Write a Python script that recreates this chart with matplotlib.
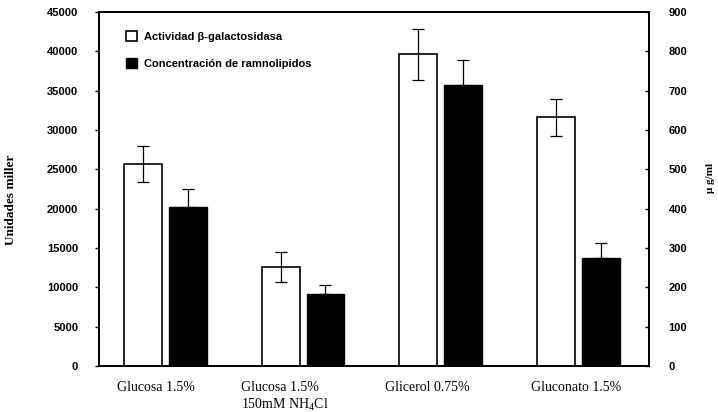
import numpy as np
import matplotlib
matplotlib.use("Agg")
import matplotlib.pyplot as plt
from matplotlib.patches import Patch

plt.rcParams['mathtext.fontset'] = 'custom'
plt.rcParams['mathtext.rm'] = 'Liberation Serif'

medios = ["Glucosa 1.5%", "Glucosa 1.5%\n150mM NH$_4$Cl", "Glicerol 0.75%", "Gluconato 1.5%"]
actividad = [25700, 12600, 39600, 31600]          # unidades miller
actividad_err = [2300, 1950, 3200, 2400]
ramnolipidos = [405, 183, 715, 274]               # ug/ml
ramnolipidos_err = [45, 22, 62, 38]

label_shift = [-0.07, -0.13, -0.10, -0.02]

x = np.arange(len(medios))
w = 0.275
off = 0.163

fig = plt.figure(figsize=(7.18, 4.12), dpi=100)
ax = fig.add_axes([0.1379, 0.1117, 0.7660, 0.8592])
ax2 = ax.twinx()

ax.bar(x - off, actividad, w, color='white', edgecolor='black', linewidth=1.2, zorder=2)
ax.errorbar(x - off, actividad, yerr=actividad_err, fmt='none', ecolor='black',
            elinewidth=0.9, capsize=4, capthick=0.9, zorder=3)

ax2.bar(x + off, ramnolipidos, w, color='black', edgecolor='black', linewidth=1.0, zorder=2)
ax2.errorbar(x + off, ramnolipidos, yerr=[[0] * 4, ramnolipidos_err], fmt='none', ecolor='black',
             elinewidth=0.9, capsize=4, capthick=0.9, zorder=3)

ax.set_xlim(-0.48, 3.51)
ax.set_ylim(0, 45000)
ax.set_yticks(np.arange(0, 45001, 5000))
ax2.set_ylim(0, 900)
ax2.set_yticks(np.arange(0, 901, 100))

tick_font = dict(family='Liberation Sans', weight='bold', size=8)
ax.set_yticklabels([str(v) for v in range(0, 45001, 5000)], fontdict=tick_font)
ax2.set_yticklabels([str(v) for v in range(0, 901, 100)], fontdict=tick_font)
ax.tick_params(axis='y', direction='out', length=3, width=1, pad=12)
ax2.tick_params(axis='y', direction='in', length=3, width=1, pad=14)

ax.set_xticks(x + np.array(label_shift))
ax.set_xticklabels(medios, family='Liberation Serif', size=10, multialignment='left')
ax.tick_params(axis='x', length=0, pad=11)

for a in (ax, ax2):
    for s in a.spines.values():
        s.set_linewidth(1.4)

ax.set_ylabel("Unidades miller", family='Liberation Serif', weight='bold', size=9.5)
ax.yaxis.set_label_coords(-0.15, 0.47)
ax2.set_ylabel("\u03bc g/ml", family='Liberation Serif', weight='bold', size=8, rotation=90)
ax2.yaxis.set_label_coords(1.103, 0.53)

handles = [Patch(facecolor='white', edgecolor='black', linewidth=1.2),
           Patch(facecolor='black', edgecolor='black')]
ax.legend(handles, ["Actividad \u03b2-galactosidasa", "Concentración de ramnolipidos"],
          loc='upper left', bbox_to_anchor=(0.03, 0.975), frameon=False,
          prop=dict(family='Liberation Sans', weight='bold', size=8),
          handlelength=1.0, handleheight=1.0, handletextpad=0.7, labelspacing=1.45)

fig.savefig("out.png", dpi=100)
